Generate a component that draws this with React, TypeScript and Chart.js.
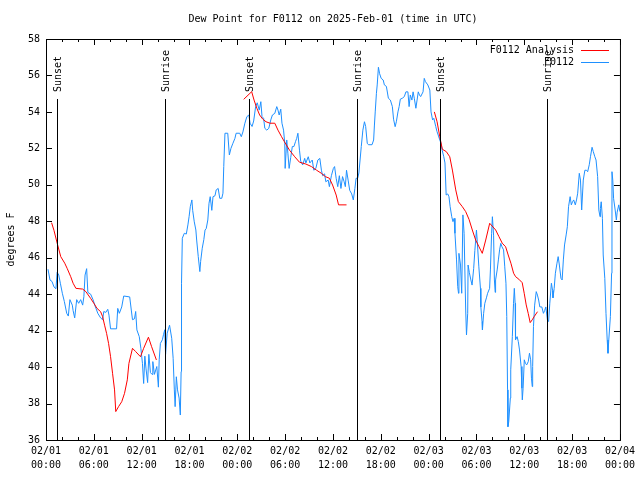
import React, { useEffect, useRef } from 'react';
import { Chart, registerables } from 'chart.js';

Chart.register(...registerables);

const titleText = 'Dew Point for F0112 on 2025-Feb-01 (time in UTC)';
const yAxisTitle = 'degrees F';
const seriesNames = ['F0112 Analysis', 'F0112'];
const seriesColors = ['#ff0000', '#1e90ff'];

// hours since 02/01 00:00 UTC
const obsHours = [
  0.25, 0.5, 0.75, 1.0, 1.25, 1.4, 1.6, 1.8, 2.05, 2.3, 2.6, 2.8, 3.0, 3.3, 3.4, 3.6, 3.85, 4.1, 4.35, 4.6,
  4.75, 4.9, 5.1, 5.25, 5.6, 5.9, 6.2, 6.5, 6.85, 7.1, 7.25, 7.5, 7.75, 7.9, 8.1, 8.85, 9.0, 9.2, 9.5, 9.75,
  10.5, 10.7, 10.85, 11.1, 11.25, 11.4, 11.7, 11.9, 12.1, 12.25, 12.4, 12.55, 12.75, 12.9, 13.1, 13.3, 13.4, 13.6, 13.9, 14.1,
  14.2, 14.35, 14.6, 14.75, 14.9, 15.0, 15.2, 15.5, 15.77, 15.95, 16.1, 16.2, 16.35, 16.5, 16.7, 16.85, 16.95, 17.0, 17.1, 17.35,
  17.6, 17.8, 17.95, 18.1, 18.3, 18.4, 18.6, 18.8, 18.9, 19.1, 19.3, 19.4, 19.6, 19.8, 19.95, 20.1, 20.3, 20.45, 20.6, 20.8,
  20.95, 21.2, 21.35, 21.6, 21.8, 22.05, 22.2, 22.3, 22.45, 22.8, 23.0, 23.2, 23.45, 23.7, 23.85, 24.3, 24.5, 24.7, 24.95, 25.2,
  25.45, 25.6, 25.85, 26.05, 26.3, 26.5, 26.75, 26.95, 27.1, 27.3, 27.45, 27.7, 27.95, 28.2, 28.4, 28.7, 28.95, 29.1, 29.25, 29.45,
  29.6, 29.8, 29.95, 30.0, 30.2, 30.35, 30.5, 30.7, 30.9, 31.1, 31.3, 31.45, 31.6, 31.8, 31.95, 32.2, 32.45, 32.6, 32.9, 33.1,
  33.4, 33.6, 33.85, 34.1, 34.35, 34.55, 34.7, 34.95, 35.1, 35.4, 35.55, 35.8, 36.05, 36.2, 36.4, 36.6, 36.8, 37.0, 37.2, 37.4,
  37.55, 37.7, 37.9, 38.1, 38.35, 38.55, 38.75, 38.9, 39.1, 39.25, 39.4, 39.55, 39.75, 39.95, 40.1, 40.3, 40.45, 40.9, 41.1, 41.2,
  41.3, 41.45, 41.55, 41.7, 41.85, 42.05, 42.3, 42.45, 42.7, 42.95, 43.2, 43.45, 43.6, 43.8, 43.95, 44.15, 44.3, 44.45, 44.7, 44.95,
  45.15, 45.4, 45.55, 45.7, 45.9, 46.05, 46.2, 46.4, 46.55, 46.7, 46.85, 47.0, 47.3, 47.45, 47.6, 47.9, 48.15, 48.3, 48.5, 48.65,
  48.9, 49.05, 49.2, 49.4, 49.55, 49.7, 49.9, 50.05, 50.2, 50.4, 50.55, 50.7, 50.9, 51.05, 51.2, 51.3, 51.5, 51.65, 51.75, 51.8,
  52.0, 52.15, 52.3, 52.45, 52.65, 52.75, 52.9, 52.95, 53.1, 53.3, 53.45, 53.65, 53.8, 54.0, 54.1, 54.3, 54.5, 54.55, 54.7, 54.75,
  54.9, 55.05, 55.25, 55.4, 55.65, 55.75, 55.9, 56.0, 56.15, 56.25, 56.35, 56.4, 56.6, 56.75, 56.9, 57.05, 57.2, 57.4, 57.55, 57.7,
  57.8, 57.9, 57.95, 58.05, 58.25, 58.3, 58.5, 58.65, 58.75, 58.85, 58.9, 59.1, 59.25, 59.4, 59.6, 59.7, 59.75, 59.85, 60.0, 60.15,
  60.3, 60.5, 60.65, 60.8, 60.9, 61.0, 61.05, 61.15, 61.3, 61.5, 61.65, 61.8, 61.95, 62.2, 62.4, 62.55, 62.7, 62.9, 63.05, 63.2,
  63.4, 63.55, 63.6, 63.75, 63.9, 64.1, 64.25, 64.4, 64.6, 64.75, 64.9, 65.05, 65.25, 65.4, 65.55, 65.75, 65.9, 66.05, 66.2, 66.4,
  66.55, 66.7, 66.9, 67.05, 67.2, 67.4, 67.6, 67.8, 67.95, 68.15, 68.3, 68.5, 68.65, 68.85, 69.0, 69.2, 69.35, 69.5, 69.55, 69.65,
  69.8, 69.9, 70.1, 70.25, 70.4, 70.5, 70.6, 70.8, 70.95, 71.0, 71.1, 71.2, 71.4, 71.55, 71.65, 71.85, 72.0,
];
const obsDew = [
  45.37, 44.78, 44.7, 44.4, 44.3, 45.2, 45.05, 44.6, 44.05, 43.6, 42.95, 42.8, 43.7, 43.4, 43.1, 42.7, 43.7, 43.5, 43.7, 43.4,
  43.86, 45.05, 45.4, 44.1, 44.0, 43.7, 43.3, 42.95, 42.7, 42.6, 43.05, 43.0, 43.17, 42.85, 42.1, 42.1, 43.22, 42.95, 43.3, 43.9,
  43.85, 43.13, 42.6, 42.65, 43.05, 42.04, 41.67, 41.03, 40.2, 39.1, 40.6, 39.9, 39.15, 40.7, 39.7, 39.6, 40.3, 39.6, 40.03, 38.9,
  40.4, 41.3, 41.5, 41.8, 42.05, 40.7, 41.86, 42.3, 41.58, 40.48, 38.75, 37.83, 39.47, 38.75, 38.3, 37.37, 39.75, 44.6, 47.07, 47.34,
  47.3, 47.8, 48.25, 48.8, 49.17, 48.6, 47.97, 47.52, 46.97, 46.06, 45.24, 45.8, 46.52, 47.0, 47.52, 47.6, 48.07, 48.99, 49.35, 48.6,
  49.35, 49.4, 49.72, 49.8, 49.26, 49.26, 49.54, 51.0, 52.83, 52.83, 51.64, 52.0, 52.28, 52.55, 52.83, 52.83, 52.64, 52.9, 53.38, 53.74,
  53.83, 53.38, 53.2, 53.5, 54.3, 54.5, 54.1, 54.56, 53.74, 53.65, 53.1, 53.0, 53.1, 53.56, 53.83, 53.92, 54.29, 54.1, 53.83, 54.15,
  53.38, 53.0, 52.28, 50.9, 52.46, 51.7, 50.9, 51.5, 52.1, 52.1, 52.37, 52.55, 52.83, 51.9, 51.3, 51.09, 51.45, 51.2, 51.54, 51.2,
  51.36, 50.8, 50.9, 51.36, 51.45, 50.8, 50.5, 50.6, 50.17, 50.26, 49.9, 50.5, 50.9, 51.0, 50.36, 49.9, 50.5, 49.8, 50.45, 50.17,
  49.9, 50.8, 50.26, 49.7, 49.5, 49.17, 49.8, 50.36, 50.36, 50.65, 51.36, 52.1, 53.0, 53.46, 53.2, 52.28, 52.2, 52.2, 52.46, 53.28,
  54.0, 55.02, 55.48, 56.45, 56.1, 55.84, 55.75, 55.48, 55.4, 54.75, 54.65, 54.29, 53.6, 53.19, 53.46, 54.0, 54.29, 54.7, 54.75, 54.84,
  55.1, 55.1, 54.29, 54.93, 54.65, 55.1, 54.75, 54.2, 54.65, 55.1, 54.93, 54.84, 55.1, 55.84, 55.66, 55.48, 55.2, 54.0, 53.56, 53.65,
  53.19, 52.92, 52.73, 52.46, 52.28, 51.9, 51.54, 51.2, 49.44, 49.5, 49.35, 48.8, 48.25, 47.98, 48.16, 47.34, 45.88, 44.41, 44.05, 46.24,
  45.6, 44.05, 48.35, 47.34, 43.13, 41.76, 42.95, 45.6, 45.2, 44.78, 44.5, 45.4, 46.4, 47.52, 46.9, 45.5, 44.32, 43.3, 42.5, 42.04,
  42.95, 43.5, 43.8, 44.05, 44.32, 45.33, 47.34, 48.25, 47.2, 44.78, 44.1, 44.78, 45.33, 45.88, 46.43, 46.79, 46.6, 46.43, 45.5, 44.6,
  42.77, 38.75, 36.73, 37.0, 38.3, 39.85, 41.67, 43.5, 44.32, 43.5, 41.5, 41.67, 41.4, 40.94, 40.03, 38.84, 38.2, 38.84, 40.4, 40.2,
  40.12, 40.3, 40.76, 40.4, 39.39, 38.93, 40.03, 42.22, 43.4, 44.14, 43.95, 43.68, 43.3, 43.3, 42.95, 43.1, 43.3, 42.6, 42.5, 43.5,
  44.6, 44.2, 43.8, 44.32, 45.15, 45.7, 46.06, 45.6, 44.87, 44.78, 45.88, 46.7, 47.25, 47.7, 48.8, 49.35, 48.9, 49.07, 49.17, 48.9,
  49.17, 49.54, 50.63, 50.26, 48.62, 50.26, 50.8, 50.8, 50.72, 51.1, 51.54, 52.06, 51.83, 51.54, 51.36, 50.45, 48.62, 48.25, 48.7, 49.07,
  48.16, 46.15, 44.87, 42.95, 41.49, 40.76, 41.49, 42.77, 45.15, 50.72, 50.26, 49.26, 48.62, 48.07, 48.5, 48.9, 48.53,
];

// analysis series; null breaks the line between the three evening segments
const anaHours = [
  0.7, 1.0, 1.4, 1.85, 2.35, 2.65, 3.1, 3.4, 3.75, 4.6, 5.0, 5.6, 6.0, 6.4, 6.85, 7.1, 7.35, 7.6, 7.85, 8.1,
  8.35, 8.6, 8.75, 9.1, 9.5, 9.85, 10.2, 10.4, 10.85, 11.25, 11.85, 12.25, 12.85, 13.25, 13.85,
  19.0,
  24.8, 25.8, 26.1, 26.45, 26.8, 27.2, 27.6, 28.1, 28.7, 29.1, 29.55, 29.9, 30.55, 31.2, 31.8, 32.6, 33.3, 33.95, 34.55, 35.05,
  35.55, 35.95, 36.4, 36.7, 37.7,
  43.0,
  48.72, 49.06, 49.4, 49.72, 50.22, 50.65, 50.98, 51.4, 51.73, 52.23, 52.65, 53.07, 53.48, 53.9, 54.32, 54.73, 55.16, 55.66, 56.41, 56.82,
  57.23, 57.66, 57.98, 58.32, 58.66, 58.91, 59.32, 59.74, 59.99, 60.24, 60.49, 60.74, 60.99, 61.24, 61.66,
];
const anaDew: (number | null)[] = [
  47.92, 47.5, 46.8, 46.06, 45.7, 45.42, 44.96, 44.6, 44.32, 44.28, 44.14, 43.77, 43.5, 43.22, 43.04, 42.77, 42.3, 41.85, 41.3, 40.57,
  39.66, 38.75, 37.56, 37.83, 38.1, 38.56, 39.3, 40.2, 41.03, 40.85, 40.57, 41.03, 41.64, 41.12, 40.39,
  null,
  54.69, 55.11, 54.65, 54.2, 53.83, 53.6, 53.46, 53.38, 53.38, 53.0, 52.64, 52.37, 51.9, 51.54, 51.24, 51.14, 51.0, 50.8, 50.63, 50.45,
  50.36, 49.99, 49.44, 48.9, 48.9,
  null,
  54.0, 53.46, 52.64, 51.95, 51.82, 51.54, 50.81, 49.72, 49.08, 48.8, 48.53, 48.1, 47.52, 46.97, 46.6, 46.24, 46.97, 47.89, 47.52, 47.16,
  46.8, 46.6, 46.15, 45.7, 45.15, 44.96, 44.82, 44.63, 44.05, 43.41, 42.95, 42.44, 42.59, 42.77, 43.04,
];

const eventHours = [1.42, 14.93, 25.45, 38.97, 49.38, 62.88];
const eventLabels = ['Sunset', 'Sunrise', 'Sunset', 'Sunrise', 'Sunset', 'Sunrise'];

const tickDays = ['02/01', '02/01', '02/01', '02/01', '02/02', '02/02', '02/02', '02/02', '02/03', '02/03', '02/03', '02/03', '02/04'];
const tickTimes = ['00:00', '06:00', '12:00', '18:00', '00:00', '06:00', '12:00', '18:00', '00:00', '06:00', '12:00', '18:00', '00:00'];

const FONT = "'DejaVu Sans Mono', 'Liberation Mono', monospace";

const gnuplotPlugin = {
  id: 'gnuplotDecor',
  beforeDraw(chart: any) {
    const ctx = chart.ctx;
    ctx.save();
    ctx.fillStyle = '#ffffff';
    ctx.fillRect(0, 0, chart.width, chart.height);
    ctx.restore();
  },
  afterDatasetsDraw(chart: any) {
    const ctx = chart.ctx;
    const { left, right, top, bottom } = chart.chartArea;
    const xs = chart.scales.x;
    const ys = chart.scales.y;
    ctx.save();
    ctx.strokeStyle = '#000';
    ctx.lineWidth = 1;
    ctx.fillStyle = '#000';
    ctx.font = `10px ${FONT}`;

    // sunrise / sunset lines
    eventHours.forEach((h, i) => {
      const px = Math.round(xs.getPixelForValue(h)) + 0.5;
      ctx.beginPath();
      ctx.moveTo(px, 99);
      ctx.lineTo(px, bottom);
      ctx.stroke();
      ctx.save();
      ctx.translate(px + 1, 92);
      ctx.rotate(-Math.PI / 2);
      ctx.textAlign = 'left';
      ctx.textBaseline = 'middle';
      ctx.fillText(eventLabels[i], 0, 0);
      ctx.restore();
    });

    // frame
    ctx.strokeRect(left + 0.5, top + 0.5, right - left, bottom - top);

    // y ticks (both sides, inward)
    for (let v = ys.min; v <= ys.max; v += 2) {
      const py = Math.round(ys.getPixelForValue(v)) + 0.5;
      ctx.beginPath();
      ctx.moveTo(left, py);
      ctx.lineTo(left + 6, py);
      ctx.moveTo(right, py);
      ctx.lineTo(right - 6, py);
      ctx.stroke();
    }
    // x ticks (top and bottom, inward)
    for (let h = xs.min; h <= xs.max; h += 2) {
      const px = Math.round(xs.getPixelForValue(h)) + 0.5;
      const len = h % 6 === 0 ? 6 : 3;
      ctx.beginPath();
      ctx.moveTo(px, bottom);
      ctx.lineTo(px, bottom - len);
      ctx.moveTo(px, top);
      ctx.lineTo(px, top + len);
      ctx.stroke();
    }

    // title
    ctx.textAlign = 'center';
    ctx.textBaseline = 'middle';
    ctx.fillText(titleText, (left + right) / 2, 19);

    // legend
    const legY = [50, 62];
    seriesNames.forEach((name, i) => {
      ctx.textAlign = 'right';
      ctx.textBaseline = 'middle';
      ctx.fillStyle = '#000';
      ctx.fillText(name, 574, legY[i]);
      ctx.strokeStyle = seriesColors[i];
      ctx.beginPath();
      ctx.moveTo(581, legY[i] + 0.5);
      ctx.lineTo(609, legY[i] + 0.5);
      ctx.stroke();
    });
    ctx.restore();
  },
};

export default function App() {
  const canvasRef = useRef<HTMLCanvasElement | null>(null);

  useEffect(() => {
    if (!canvasRef.current) return;
    const chart = new Chart(canvasRef.current, {
      type: 'line',
      data: {
        datasets: [
          {
            label: seriesNames[0],
            data: anaHours.map((h, i) => ({ x: h, y: anaDew[i] })) as any,
            borderColor: seriesColors[0],
            borderWidth: 1,
            pointRadius: 0,
            spanGaps: false,
            tension: 0,
          },
          {
            label: seriesNames[1],
            data: obsHours.map((h, i) => ({ x: h, y: obsDew[i] })),
            borderColor: seriesColors[1],
            borderWidth: 1,
            pointRadius: 0,
            tension: 0,
          },
        ],
      },
      options: {
        animation: false,
        responsive: false,
        devicePixelRatio: 1,
        layout: { padding: { top: 39, right: 19, left: 0, bottom: 0 } },
        plugins: {
          legend: { display: false },
          title: { display: false },
          tooltip: { enabled: false },
        },
        scales: {
          x: {
            type: 'linear',
            min: 0,
            max: 72,
            grid: { display: false, drawTicks: false },
            border: { display: false },
            ticks: {
              stepSize: 6,
              autoSkip: false,
              maxRotation: 0,
              padding: 5,
              color: '#000',
              font: { family: FONT, size: 10, lineHeight: 1.35 },
              callback: (value: any) => {
                const i = Math.round(Number(value) / 6);
                return [tickDays[i], tickTimes[i]];
              },
            },
            afterFit: (s: any) => {
              s.height = 40;
            },
          },
          y: {
            min: 36,
            max: 58,
            grid: { display: false, drawTicks: false },
            border: { display: false },
            ticks: {
              stepSize: 2,
              padding: 6,
              color: '#000',
              font: { family: FONT, size: 10 },
            },
            title: {
              display: true,
              text: yAxisTitle,
              color: '#000',
              font: { family: FONT, size: 10 },
              padding: { top: 5, bottom: 5 },
            },
            afterFit: (s: any) => {
              s.width = 46;
            },
          },
        },
      },
      plugins: [gnuplotPlugin],
    });
    return () => chart.destroy();
  }, []);

  return (
    <div style={{ position: 'fixed', left: 0, top: 0, width: 640, height: 480, background: '#fff' }}>
      <canvas ref={canvasRef} width={640} height={480} style={{ display: 'block' }} />
    </div>
  );
}
